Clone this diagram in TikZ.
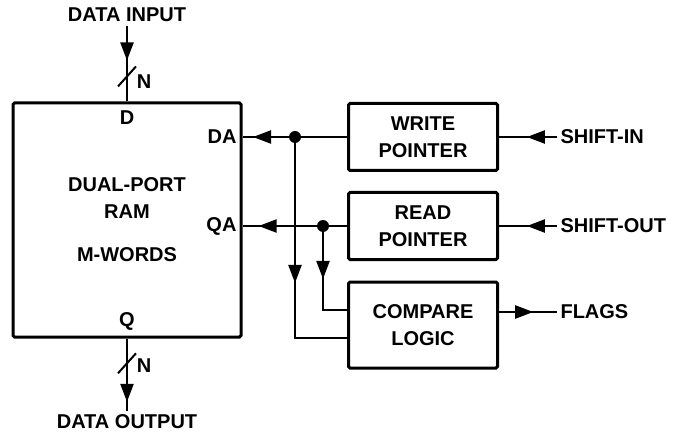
\documentclass[tikz,border=0pt]{standalone}
\usepackage{fontspec}
\setmainfont{Liberation Sans}
\usetikzlibrary{arrows.meta,calc,decorations.markings}
\tikzset{
  blk/.style={draw,line width=3pt,rounded corners=1.5pt,minimum width=149pt,minimum height=67pt,align=center},
  wire/.style={line width=2.2pt},
  mid/.style={postaction={decorate,decoration={markings,mark=at position #1 with {\arrow{Triangle[length=18pt,width=13pt]}}}}},
  slash/.style={postaction={decorate,decoration={markings,mark=at position #1 with {\draw[line width=2pt] (10pt,-9pt) -- (-10pt,9pt);}}}}
}
\begin{document}
\begin{tikzpicture}[x=1pt,y=-1pt,font=\fontsize{20}{27}\selectfont\bfseries]
\useasboundingbox (0,0) rectangle (676,438);
%RAM
\node[draw,line width=3pt,rounded corners=1.5pt,minimum width=228pt,minimum height=234pt] (ram) at (127,220) {};
\node[align=center] (ramname) at (127,198.5) {DUAL-PORT\\RAM};
\node (ramsize) at (127,255) {M-WORDS};
\node (portd) at (127,118) {D};
\node (portq) at (127,321) {Q};
\node[anchor=east] (portda) at (240,137) {DA};
\node[anchor=east] (portqa) at (240,226) {QA};
%ポインタと比較
\node[blk] (wp) at (423,137) {WRITE\\POINTER};
\node[blk] (rp) at (423,226) {READ\\POINTER};
\node[blk,minimum height=86pt] (cl) at (423,325) {COMPARE\\LOGIC};
%データ入出力
\node (din) at (127,15) {DATA INPUT};
\node (dinN) at (144,82) {N};
\draw[wire,mid=0.46,slash=0.67] (din.south) -- (ram.north);
\node (dout) at (127,422) {DATA OUTPUT};
\node (doutN) at (144,366) {N};
\draw[wire,slash=0.34,mid=0.87] (ram.south) -- (dout.north);
%アドレス
\coordinate (dadot) at (295,137);
\coordinate (qadot) at (323,226);
\draw[wire] (wp.west) -- (dadot);
\draw[wire,mid=0.8] (dadot) -- (dadot -| ram.east);
\draw[wire] (rp.west) -- (qadot);
\draw[wire,mid=0.8] (qadot) -- (qadot -| ram.east);
\draw[wire,mid=0.577] (dadot) |- ([yshift=-13pt]cl.west);
\draw[wire,mid=0.49] (qadot) |- ([yshift=15pt]cl.west);
\fill (dadot) circle (6pt);
\fill (qadot) circle (6pt);
%外部信号
\node[anchor=west] (sin) at (557,137) {SHIFT-IN};
\draw[wire,mid=0.52] (sin.west) -- (wp.east);
\node[anchor=west] (sout) at (557,226) {SHIFT-OUT};
\draw[wire,mid=0.52] (sout.west) -- (rp.east);
\node[anchor=west] (flags) at (557,312) {FLAGS};
\draw[wire,mid=0.59] (flags.west -| cl.east) -- (flags.west);
\end{tikzpicture}
\end{document}
